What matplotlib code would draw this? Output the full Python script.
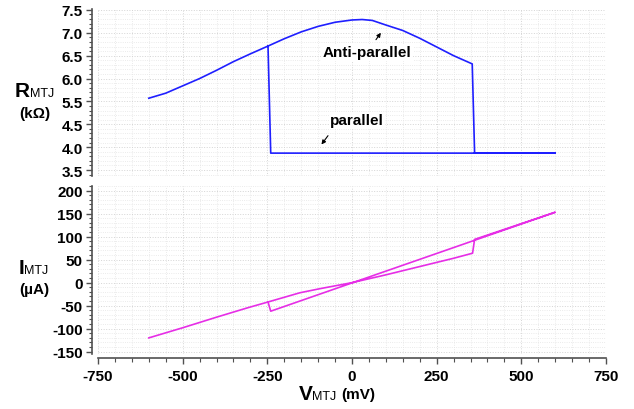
import matplotlib.pyplot as plt
from matplotlib.ticker import MultipleLocator, FixedLocator

plt.rcParams['font.family'] = ['Liberation Sans', 'DejaVu Sans']

# ----------------------------- DATA -----------------------------

# R-V sweep: anti-parallel branch up to +355 mV, switch to parallel,
# parallel back down to -240 mV, switch back to anti-parallel
sweep_v = [-600, -550, -500, -450, -400, -350, -300, -248, -200, -150, -100,
           -50, 0, 30, 60, 100, 150, 200, 250, 300, 355,
           362, 600, -240, -248]
sweep_r = [5.57, 5.68, 5.84, 6.00, 6.18, 6.37, 6.54, 6.71, 6.87, 7.02, 7.14,
           7.23, 7.28, 7.29, 7.27, 7.17, 7.05, 6.88, 6.69, 6.50, 6.32,
           4.37, 4.37, 4.37, 6.71]

# I-V sweep, same order
iv_v = [-600, -500, -400, -310, -248, -154, -94, 0, 100, 200, 300, 356,
        362, 600, -240, -248]
iv_i = [-120, -98, -75, -55, -42, -22, -13, 0, 17, 35, 53, 64,
        94, 153, -62, -42]

x_ticks = [-750, -500, -250, 0, 250, 500, 750]
r_ticks = [4.0, 4.5, 5.0, 5.5, 6.0, 6.5, 7.0, 7.5]
r_tick_labels = ['3.5', '4.0', '4.5', '5.5', '6.0', '6.5', '7.0', '7.5']
i_ticks = [-150, -100, -50, 0, 50, 100, 150, 200]

W, H = 634, 410


def px(x, y):
    return x / W, 1 - y / H


# ----------------------------- FIGURE -----------------------------

fig = plt.figure(figsize=(W / 100, H / 100), dpi=100)
ax1 = fig.add_axes([98 / W, 1 - 177 / H, 508 / W, 167 / H])
ax2 = fig.add_axes([98 / W, 1 - 355 / H, 508 / W, 168 / H])

ax1.plot(sweep_v, sweep_r, color='#1f1fff', lw=1.2)
ax2.plot(iv_v, iv_i, color='#e62ee6', lw=1.2)

ax1.set_ylim(3.87, 7.52)
ax2.set_ylim(-155, 210)

for ax in (ax1, ax2):
    ax.set_xlim(-750, 750)
    ax.xaxis.set_major_locator(FixedLocator(x_ticks))
    ax.xaxis.set_minor_locator(MultipleLocator(50))
    ax.spines['top'].set_visible(False)
    ax.spines['right'].set_visible(False)
    ax.spines['left'].set_position(('outward', 4))
    ax.spines['left'].set_color('#505050')
    ax.spines['left'].set_linewidth(1.2)
    ax.grid(which='major', color='#d4d4d4', lw=0.7, ls=':')
    ax.grid(which='minor', color='#e4e4e4', lw=0.6, ls=':')
    ax.tick_params(axis='y', which='major', length=4, width=1, color='#505050',
                   pad=3, labelsize=11)
    ax.tick_params(axis='y', which='minor', length=2.5, width=0.8, color='#505050')

ax1.yaxis.set_major_locator(FixedLocator(r_ticks))
ax1.set_yticklabels(r_tick_labels, fontweight='bold')
ax1.yaxis.set_minor_locator(MultipleLocator(0.1))
ax1.spines['bottom'].set_visible(False)
ax1.tick_params(axis='x', which='both', length=0, labelbottom=False)

ax2.yaxis.set_major_locator(FixedLocator(i_ticks))
ax2.set_yticklabels([str(t) for t in i_ticks], fontweight='bold')
ax2.yaxis.set_minor_locator(MultipleLocator(10))
ax2.spines['bottom'].set_position(('outward', 3))
ax2.spines['bottom'].set_color('#505050')
ax2.spines['bottom'].set_linewidth(1.2)
ax2.tick_params(axis='x', which='major', length=4, width=1, color='#505050',
                pad=4, labelsize=11)
ax2.tick_params(axis='x', which='minor', length=3, width=0.8, color='#505050')
ax2.set_xticklabels([str(t) for t in x_ticks], fontweight='bold')

# annotations
box = dict(facecolor='white', edgecolor='none', pad=1)
ax1.text(44, 6.57, 'Anti-parallel', ha='center', va='center',
         fontsize=11, fontweight='bold', bbox=box)
ax1.annotate('', xy=(90, 7.05), xytext=(66, 6.80),
             arrowprops=dict(arrowstyle='-|>', color='black', lw=0.8,
                             mutation_scale=6))
ax1.text(15, 5.09, 'parallel', ha='center', va='center',
         fontsize=11, fontweight='bold', bbox=box)
ax1.annotate('', xy=(-95, 4.51), xytext=(-66, 4.80),
             arrowprops=dict(arrowstyle='-|>', color='black', lw=0.8,
                             mutation_scale=6))

# axis titles with subscripts
fig.text(*px(15, 97), 'R', fontsize=15, fontweight='bold', va='baseline')
fig.text(*px(30, 97), 'MTJ', fontsize=9, va='baseline')
fig.text(*px(35, 114), '(k\u03a9)', fontsize=11, fontweight='bold',
         ha='center', va='center')

fig.text(*px(19, 274), 'I', fontsize=15, fontweight='bold', va='baseline')
fig.text(*px(24, 274), 'MTJ', fontsize=9, va='baseline')
fig.text(*px(34, 290), '(\u00b5A)', fontsize=11, fontweight='bold',
         ha='center', va='center')

fig.text(*px(299, 400), 'V', fontsize=15, fontweight='bold', va='baseline')
fig.text(*px(312, 400), 'MTJ', fontsize=9, va='baseline')
fig.text(*px(341, 399), '(mV)', fontsize=11, fontweight='bold', va='baseline')

fig.savefig('out.png', dpi=100)
